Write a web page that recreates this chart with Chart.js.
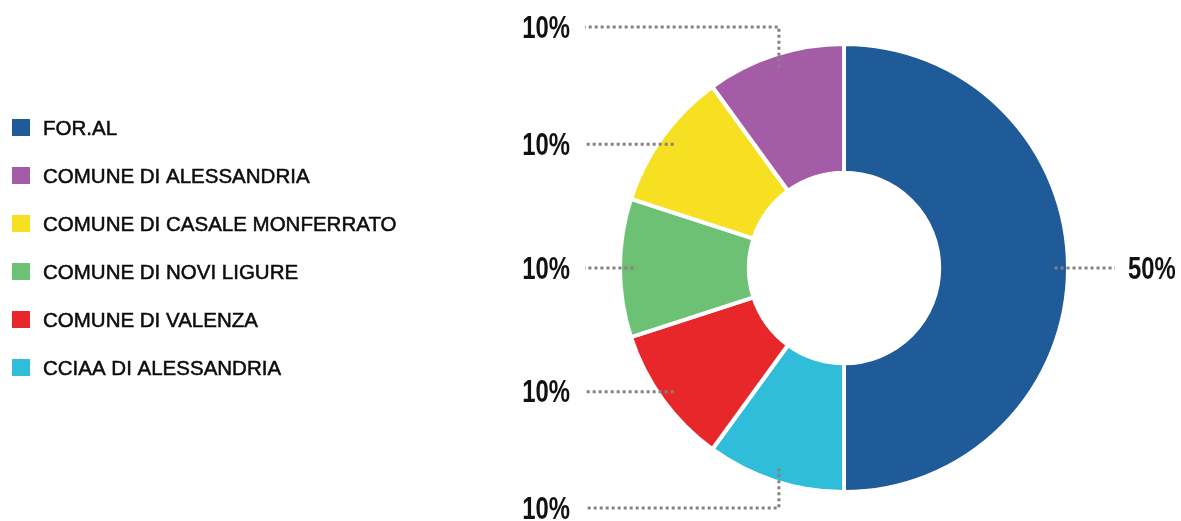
<!DOCTYPE html>
<html>
<head>
<meta charset="utf-8">
<script src="https://cdn.jsdelivr.net/npm/chart.js@4"></script>
<style>
  html, body { margin: 0; padding: 0; background: #ffffff; }
  #wrap { width: 1181px; height: 521px; position: relative; }
</style>
</head>
<body>
<div id="wrap"><canvas id="quoteChart"></canvas></div>
<script>
// legend order (as listed on the left)
const labels = [
  'FOR.AL',
  'COMUNE DI ALESSANDRIA',
  'COMUNE DI CASALE MONFERRATO',
  'COMUNE DI NOVI LIGURE',
  'COMUNE DI VALENZA',
  'CCIAA DI ALESSANDRIA',
];
const shares = [50, 10, 10, 10, 10, 10];
const colors = ['#1f5b98', '#a55ca7', '#f6e021', '#6cc174', '#e8272a', '#2fbdd9'];

// slices run clockwise from the top: FOR.AL, then the others in reverse
const sliceOrder = [0, 5, 4, 3, 2, 1];

const labelFont = 'bold 31px "Liberation Sans", Arial, sans-serif';
const labelSquash = 0.77; // condensed look of the percentage figures
const legendFont = '20.5px "Liberation Sans", Arial, sans-serif';
const dotColor = '#878080';

// legend drawn on the left side of the canvas
const sideLegend = {
  id: 'sideLegend',
  afterDraw(chart) {
    const ctx = chart.ctx;
    ctx.save();
    ctx.font = legendFont;
    ctx.textBaseline = 'middle';
    ctx.lineWidth = 0.5;
    ctx.strokeStyle = '#0c0c0c';
    labels.forEach((lab, i) => {
      const y = 128 + i * 48;
      ctx.fillStyle = colors[i];
      ctx.fillRect(12, y - 9, 18, 17);
      ctx.fillStyle = '#0c0c0c';
      ctx.fillText(lab, 43, y + 1);
      ctx.strokeText(lab, 43, y + 1);
    });
    ctx.restore();
  },
};

function drawPct(ctx, txt, x, y, align) {
  ctx.save();
  ctx.translate(x, y);
  ctx.scale(labelSquash, 1);
  ctx.textAlign = align;
  ctx.fillStyle = '#111111';
  ctx.fillText(txt, 0, 0);
  ctx.restore();
}

// percentage labels with dotted leader lines
const leaderLabels = {
  id: 'leaderLabels',
  afterDraw(chart) {
    const ctx = chart.ctx;
    const meta = chart.getDatasetMeta(0);
    const total = shares.reduce((a, b) => a + b, 0);
    ctx.save();
    ctx.font = labelFont;
    ctx.textBaseline = 'middle';
    ctx.strokeStyle = dotColor;
    ctx.lineWidth = 3;
    ctx.setLineDash([3, 3]);

    meta.data.forEach((arc, k) => {
      const idx = sliceOrder[k];
      const cx = arc.x, cy = arc.y;
      const R = arc.outerRadius;
      const mid = (arc.startAngle + arc.endAngle) / 2;
      const ax = cx + Math.cos(mid) * R * 0.94;
      const ay = cy + Math.sin(mid) * R * 0.94;
      const txt = Math.round((shares[idx] / total) * 100) + '%';

      ctx.beginPath();
      if (idx === 0) {
        ctx.moveTo(ax, ay);
        ctx.lineTo(cx + R + 47, ay);
        ctx.stroke();
        drawPct(ctx, txt, cx + R + 60, ay + 2, 'left');
      } else if (idx === 1 || idx === 5) {
        const ly = idx === 1 ? cy - R - 17 : cy + R + 16;
        ctx.moveTo(ax, ay);
        ctx.lineTo(ax, ly);
        ctx.lineTo(cx - R - 35, ly);
        ctx.stroke();
        drawPct(ctx, txt, cx - R - 50, ly + 2, 'right');
      } else {
        ctx.moveTo(ax, ay);
        ctx.lineTo(cx - R - 35, ay);
        ctx.stroke();
        drawPct(ctx, txt, cx - R - 50, ay + 2, 'right');
      }
    });
    ctx.restore();
  },
};

new Chart(document.getElementById('quoteChart').getContext('2d'), {
  type: 'doughnut',
  data: {
    labels: sliceOrder.map((i) => labels[i]),
    datasets: [
      {
        data: sliceOrder.map((i) => shares[i]),
        backgroundColor: sliceOrder.map((i) => colors[i]),
        borderColor: '#ffffff',
        borderWidth: 4,
        hoverOffset: 0,
      },
    ],
  },
  options: {
    responsive: true,
    maintainAspectRatio: false,
    animation: false,
    cutout: '42.5%',
    layout: {
      padding: { left: 618, right: 111, top: 42, bottom: 27 },
    },
    plugins: {
      legend: { display: false },
      tooltip: { enabled: false },
    },
  },
  plugins: [sideLegend, leaderLabels],
});
</script>
</body>
</html>
